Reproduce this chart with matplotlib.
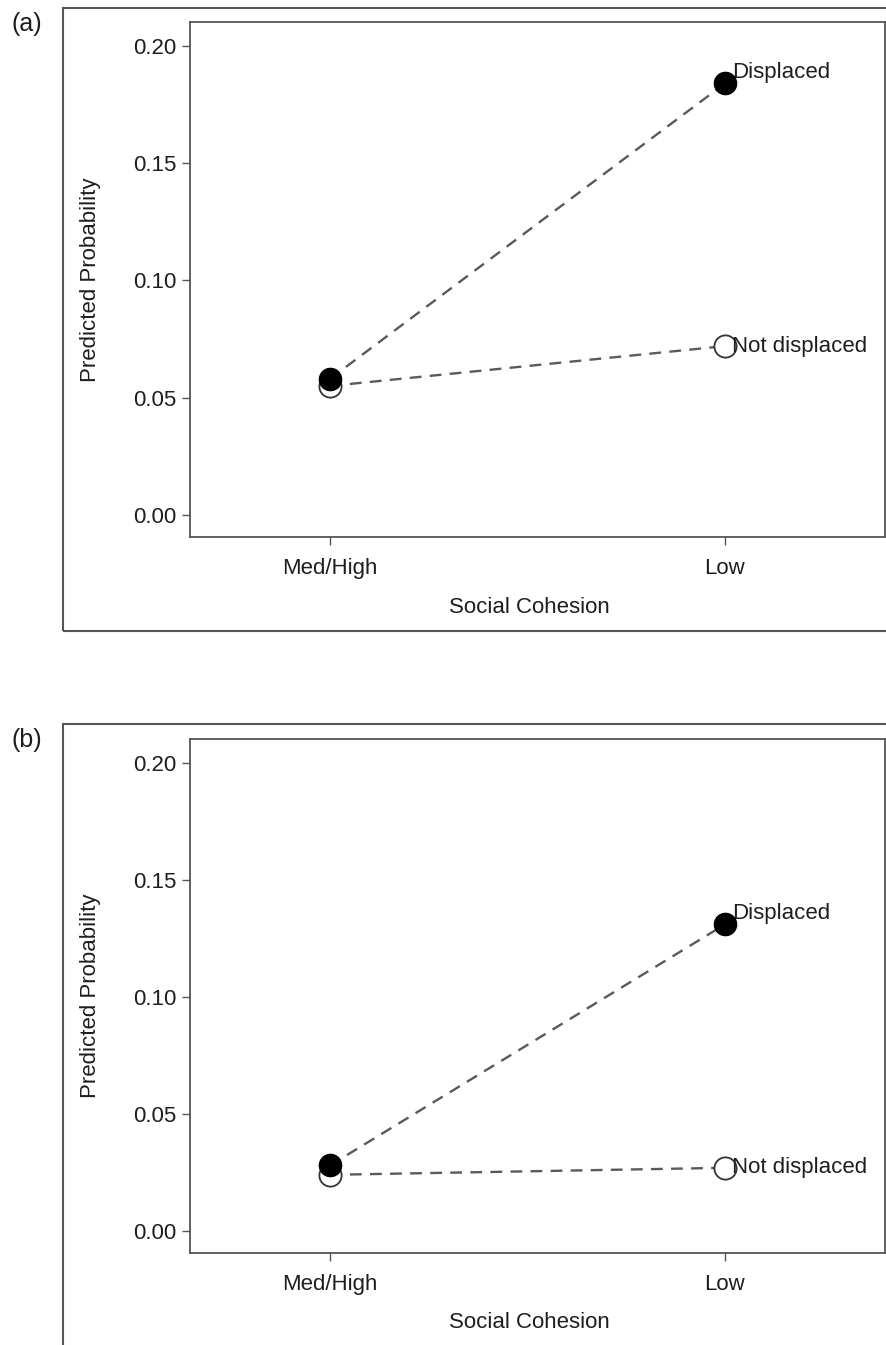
import matplotlib
matplotlib.use("Agg")
import matplotlib.pyplot as plt
from matplotlib.patches import Rectangle

plt.rcParams['font.family'] = ['Liberation Sans', 'DejaVu Sans']

# data
categories = ['Med/High', 'Low']
panel_tags = ['(a)', '(b)']
displaced_a = [0.058, 0.184]
not_displaced_a = [0.055, 0.072]
displaced_b = [0.028, 0.131]
not_displaced_b = [0.024, 0.027]
yticks = [0.00, 0.05, 0.10, 0.15, 0.20]

W, H = 887, 1345
fig = plt.figure(figsize=(W / 100, H / 100), dpi=100)

spine_col = '#555555'
line_col = '#5a5a5a'
txt_col = '#1e1e1e'
fs = 16


def draw_panel(ax, disp, notdisp, tag, outer_top, outer_bottom):
    x = [1, 2]
    ax.plot(x, notdisp, ls=(0, (5, 3.5)), color=line_col, lw=1.7, zorder=2)
    ax.plot(x, disp, ls=(0, (5, 3.5)), color=line_col, lw=1.7, zorder=2)
    ax.plot(x, notdisp, 'o', ms=16, mfc='white', mec='#333333', mew=1.3, ls='none', zorder=3)
    ax.plot(x, disp, 'o', ms=16, mfc='black', mec='black', ls='none', zorder=4)

    ax.annotate('Displaced', (2, disp[1]), xytext=(5, 8), textcoords='offset points',
                ha='left', va='center', fontsize=fs, color=txt_col)
    ax.annotate('Not displaced', (2, notdisp[1]), xytext=(5, 0), textcoords='offset points',
                ha='left', va='center', fontsize=fs, color=txt_col)

    ax.set_xlim(0.646, 2.405)
    ax.set_ylim(-0.0094, 0.2102)
    ax.set_xticks(x)
    ax.set_xticklabels(categories)
    ax.set_yticks(yticks)
    ax.set_yticklabels(['%.2f' % v for v in yticks])
    ax.tick_params(axis='both', length=6, width=1.0, color=spine_col, labelsize=fs,
                   labelcolor=txt_col, direction='out')
    ax.tick_params(axis='y', pad=4)
    ax.tick_params(axis='x', pad=9)
    for s in ax.spines.values():
        s.set_color(spine_col)
        s.set_linewidth(1.3)

    ax.set_ylabel('Predicted Probability', fontsize=fs, color=txt_col)
    ax.yaxis.set_label_coords(-0.128, 0.5)
    ax.set_xlabel('Social Cohesion', fontsize=fs, color=txt_col)
    ax.xaxis.set_label_coords(0.489, -0.136)
    ax.xaxis.label.set_va('center')

    # outer frame around the panel
    fig.patches.append(Rectangle((63 / W, 1 - outer_bottom / H), 1.0,
                                 (outer_bottom - outer_top) / H,
                                 transform=fig.transFigure, fill=False,
                                 ec=spine_col, lw=1.5, zorder=0))
    fig.text(12 / W, 1 - (outer_top + 16) / H, tag, fontsize=18, color=txt_col,
             ha='left', va='center')


ax1 = fig.add_axes([190 / W, 1 - 537 / H, 695 / W, 515 / H])
draw_panel(ax1, displaced_a, not_displaced_a, panel_tags[0], 8, 631)

ax2 = fig.add_axes([190 / W, 1 - 1253 / H, 695 / W, 514 / H])
draw_panel(ax2, displaced_b, not_displaced_b, panel_tags[1], 724, 1360)

fig.savefig('out.png', dpi=100)
